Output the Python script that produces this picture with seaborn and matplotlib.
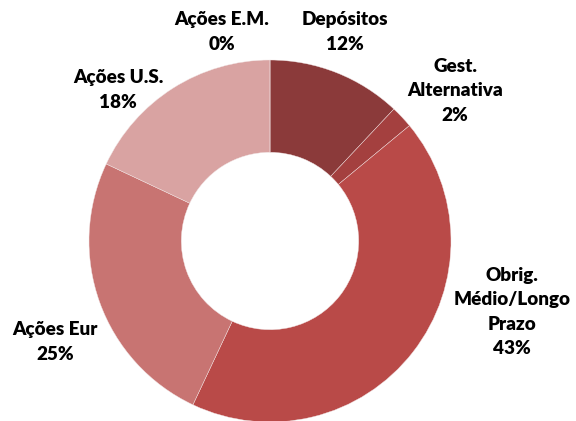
import matplotlib
matplotlib.use("Agg")
import matplotlib.pyplot as plt
import seaborn as sns

categories = ["Depósitos", "Gest.\nAlternativa", "Obrig.\nMédio/Longo\nPrazo", "Ações Eur", "Ações U.S.", "Ações E.M."]
values = [12, 2, 43, 25, 18, 0]
colors = ["#8B3A3A", "#A4403F", "#B94A48", "#C87472", "#D9A3A2", "#E8C8C7"]

sns.set_theme(style="white")
plt.rcParams['font.family'] = ['Lato', 'DejaVu Sans']

fig = plt.figure(figsize=(5.76, 4.21), dpi=100)
ax = fig.add_axes([0, 0, 1, 1])

cx, cy, R = 270, 180, 181
ax.pie(values, colors=colors, startangle=90, counterclock=False, radius=R,
       center=(cx, cy), frame=True,
       wedgeprops=dict(width=R * 0.51, edgecolor="#f2e6e6", linewidth=0.3))
ax.set_xlim(0, 576)
ax.set_ylim(0, 421)
ax.set_aspect('equal')
ax.axis('off')

label_pos = [(345, 389), (455, 330), (512, 109), (55, 79), (118, 331), (222, 389)]
for name, v, (x, y) in zip(categories, values, label_pos):
    ax.text(x, y, f"{name}\n{v}%", ha="center", va="center", fontsize=13.6,
            fontweight="heavy", color="black", linespacing=1.52)

fig.savefig("out.png", dpi=100)
